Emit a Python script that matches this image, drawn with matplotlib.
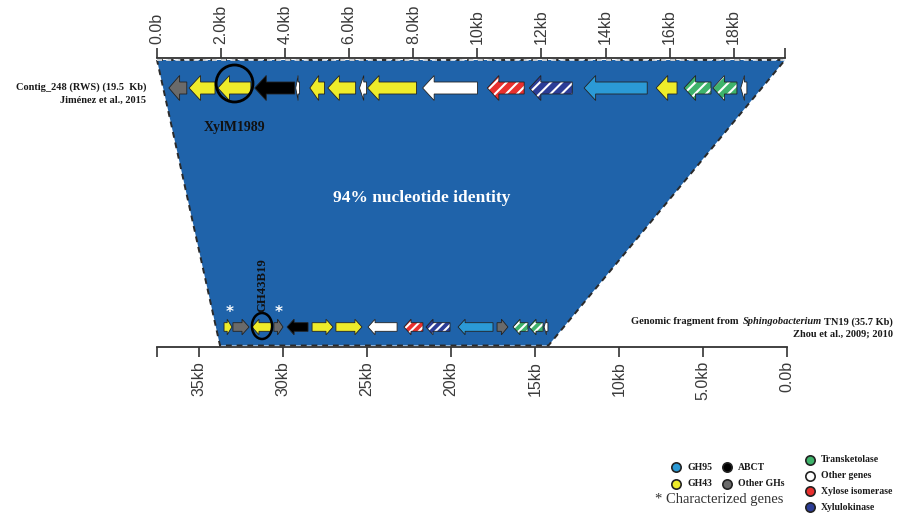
import matplotlib
matplotlib.use('Agg')
import matplotlib.pyplot as plt
from matplotlib.patches import Polygon, Ellipse
from matplotlib.lines import Line2D
import numpy as np

plt.rcParams['hatch.linewidth'] = 1.5

# gene positions in kb (tail -> head of arrow)
top_tail = [0.93, 1.81, 2.93, 4.30, 4.45, 5.23, 6.20, 6.54, 8.10, 10.00, 11.46, 12.96, 15.30, 16.23, 17.29, 18.10, 18.41]
top_head = [0.37, 1.00, 1.90, 3.05, 4.33, 4.77, 5.33, 6.32, 6.57, 8.29, 10.31, 11.62, 13.33, 15.58, 16.45, 17.35, 18.22]
top_kind = ['other_gh', 'gh43', 'gh43', 'abct', 'other', 'gh43', 'gh43', 'other', 'gh43', 'other',
            'xyl_iso', 'xylk', 'gh95', 'gh43', 'tkt', 'tkt', 'other']

bot_tail = [33.51, 32.98, 30.65, 30.54, 28.51, 28.27, 26.85, 23.21, 21.67, 20.06, 17.50, 17.26, 15.42, 14.52, 14.23]
bot_head = [33.04, 32.02, 31.85, 30.00, 29.76, 27.02, 25.30, 24.94, 22.80, 21.49, 19.58, 16.61, 16.31, 15.36, 14.46]
bot_kind = ['gh43', 'other_gh', 'gh43', 'other_gh', 'abct', 'gh43', 'gh43', 'other', 'xyl_iso', 'xylk',
            'gh95', 'other_gh', 'tkt', 'tkt', 'other']

top_len = 19.6
bot_len = 37.5
# aligned region: top [0, 19.6] <-> bottom [33.75, 14.2]
top_block = [0.0, 19.6]
bot_block = [33.75, 14.2]
identity = 94

top_ticks = [0, 2, 4, 6, 8, 10, 12, 14, 16, 18, 19.6]
top_labels = ['0.0b', '2.0kb', '4.0kb', '6.0kb', '8.0kb', '10kb', '12kb', '14kb', '16kb', '18kb', '']
bot_ticks = [37.5, 35, 30, 25, 20, 15, 10, 5, 0]
bot_labels = ['', '35kb', '30kb', '25kb', '20kb', '15kb', '10kb', '5.0kb', '0.0b']

colors = {'gh95': '#2b9ad6', 'gh43': '#eeec2a', 'abct': '#000000', 'other_gh': '#6a6a6a',
          'tkt': '#3fb36b', 'other': '#ffffff', 'xyl_iso': '#e8302e', 'xylk': '#2c3d96'}
hatched = ['tkt', 'xyl_iso', 'xylk']

W, H = 915, 516
fig = plt.figure(figsize=(W / 100, H / 100), dpi=100)

ax_bg = fig.add_axes([0, 0, 1, 1])
ax_bg.set_xlim(0, W)
ax_bg.set_ylim(H, 0)
ax_bg.axis('off')

ax_top = fig.add_axes([157 / W, 1 - 118 / H, 628 / W, 60 / H])
ax_top.set_xlim(0, top_len)
ax_top.set_ylim(-30, 30)
ax_bot = fig.add_axes([157 / W, 1 - 347 / H, 630 / W, 40 / H])
ax_bot.set_xlim(bot_len, 0)
ax_bot.set_ylim(-20, 20)

for ax in (ax_top, ax_bot):
    ax.patch.set_visible(False)
    for s in ax.spines.values():
        s.set_visible(False)
    ax.set_yticks([])
    ax.tick_params(axis='x', length=7, width=1.2, color='#333333', labelcolor='#3a3a3a',
                   labelsize=11.5, labelrotation=90, pad=3)

ax_top.spines['top'].set_visible(True)
ax_top.spines['top'].set_color('#333333')
ax_top.spines['top'].set_linewidth(1.3)
ax_top.xaxis.tick_top()
ax_top.set_xticks(top_ticks)
ax_top.set_xticklabels(top_labels, fontfamily='Liberation Sans')

ax_bot.spines['bottom'].set_visible(True)
ax_bot.spines['bottom'].set_color('#333333')
ax_bot.spines['bottom'].set_linewidth(1.3)
ax_bot.set_xticks(bot_ticks)
ax_bot.set_xticklabels(bot_labels, fontfamily='Liberation Sans')

# similarity block between the two tracks
to_fig = fig.transFigure.inverted()
p_top = to_fig.transform(ax_top.transData.transform([(top_block[0], 28), (top_block[1], 28)]))
p_bot = to_fig.transform(ax_bot.transData.transform([(bot_block[1], -18.5), (bot_block[0], -18.5)]))
verts = np.vstack([p_top, p_bot])
fig.add_artist(Polygon(verts, closed=True, transform=fig.transFigure, facecolor='#1f63aa',
                       edgecolor='#2a2a2a', lw=1.4, ls=(0, (3, 2.5)), zorder=-1))
fig.add_artist(Line2D(p_top[:, 0], p_top[:, 1], transform=fig.transFigure, color='#e8eef5',
                      lw=1.2, ls=(0, (3, 2.5)), zorder=-0.5))

def gene(ax, tail, head, hb, hh, hl, kind):
    d = np.sign(head - tail)
    hl = min(hl, abs(head - tail) * 0.6)
    neck = head - d * hl
    xy = [(tail, -hb), (neck, -hb), (neck, -hh), (head, 0), (neck, hh), (neck, hb), (tail, hb)]
    fc = colors[kind]
    if kind in hatched:
        ax.add_patch(Polygon(xy, closed=True, facecolor=fc, edgecolor='white', lw=0,
                             hatch='///' if ax is ax_top else '////'))
        ax.add_patch(Polygon(xy, closed=True, facecolor='none', edgecolor='#222222', lw=0.6))
    else:
        ax.add_patch(Polygon(xy, closed=True, facecolor=fc, edgecolor='#222222', lw=0.6))

for t, h, k in zip(top_tail, top_head, top_kind):
    gene(ax_top, t, h, 6, 12.5, 0.36, k)
for t, h, k in zip(bot_tail, bot_head, bot_kind):
    gene(ax_bot, t, h, 4.3, 7.8, 0.42, k)

# highlighted genes
ax_top.add_patch(Ellipse((2.42, 4.5), 1.15, 37, facecolor='none', edgecolor='black', lw=2, clip_on=False))
ax_top.text(2.42, -39, 'XylM1989', ha='center', va='center', fontsize=10, fontweight='bold',
            fontfamily='Liberation Serif', color='#111111')
ax_bot.add_patch(Ellipse((31.25, 1), 1.2, 26, facecolor='none', edgecolor='black', lw=1.8, clip_on=False))
ax_bot.text(31.25, 42, 'GH43B19', ha='center', va='center', rotation=90, fontsize=9.2,
            fontweight='bold', fontfamily='Liberation Serif', color='#111111')
for xk in [33.2, 30.24]:
    ax_bot.text(xk, 14, '*', ha='center', va='center', fontsize=11, fontweight='bold', color='white')

ax_bg.text(422, 198, f'{identity}% nucleotide identity', ha='center', va='center', fontsize=12.5,
           fontweight='bold', fontfamily='Liberation Serif', color='white')

serif_b = dict(fontfamily='Liberation Serif', fontweight='bold', color='#1a1a1a')
ax_bg.text(146, 87, 'Contig_248 (RWS) (19.5  Kb)', ha='right', va='center', fontsize=7.5, **serif_b)
ax_bg.text(146, 100, 'Jiménez et al., 2015', ha='right', va='center', fontsize=7.5, **serif_b)

t3 = ax_bg.text(893, 322, 'TN19 (35.7 Kb)', ha='right', va='center', fontsize=7.5, **serif_b)
t2 = ax_bg.annotate('Sphingobacterium', xy=(0, 0.5), xycoords=t3, xytext=(-1.8, 0),
                    textcoords='offset points', ha='right', va='center', fontsize=7.5,
                    fontstyle='italic', **serif_b)
ax_bg.annotate('Genomic fragment from', xy=(0, 0.5), xycoords=t2, xytext=(-2.6, 0),
               textcoords='offset points', ha='right', va='center', fontsize=7.5, **serif_b)
ax_bg.text(893, 334, 'Zhou et al., 2009; 2010', ha='right', va='center', fontsize=7.5, **serif_b)

# legend
leg_left = [('gh95', 'GH95', 676, 467), ('abct', 'ABCT', 727, 467),
            ('gh43', 'GH43', 676, 484), ('other_gh', 'Other GHs', 727, 484)]
leg_right = [('tkt', 'Transketolase', 810, 460), ('other', 'Other genes', 810, 476),
             ('xyl_iso', 'Xylose isomerase', 810, 491), ('xylk', 'Xylulokinase', 810, 507)]
for k, lab, x, y in leg_left + leg_right:
    ax_bg.scatter([x], [y], s=45, facecolor=colors[k], edgecolor='#222222', linewidth=1.2, zorder=3)
    ax_bg.text(x + 11, y, lab, ha='left', va='center', fontsize=7, **serif_b)
ax_bg.text(655, 500, '* Characterized genes', ha='left', va='center', fontsize=10.5,
           fontfamily='Liberation Serif', color='#333333')

fig.savefig('out.png', dpi=100)
